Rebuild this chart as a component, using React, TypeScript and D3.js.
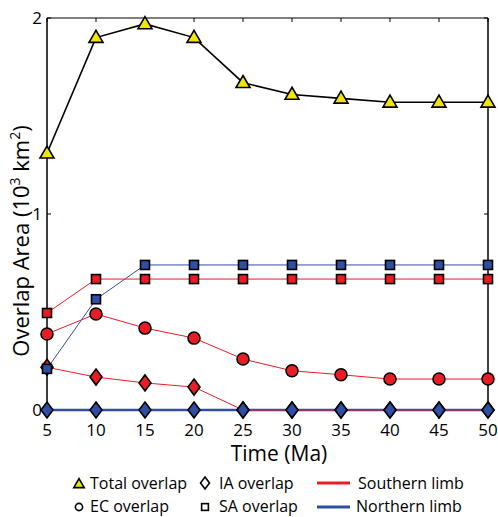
import React from "react";
import * as d3 from "d3";

const times = [5, 10, 15, 20, 25, 30, 35, 40, 45, 50];
const totalOverlap = [1.31, 1.9, 1.97, 1.9, 1.67, 1.61, 1.59, 1.57, 1.57, 1.57];
const southSA = [0.495, 0.668, 0.668, 0.668, 0.668, 0.668, 0.668, 0.668, 0.668, 0.668];
const northSA = [0.21, 0.565, 0.74, 0.74, 0.74, 0.74, 0.74, 0.74, 0.74, 0.74];
const southEC = [0.388, 0.49, 0.418, 0.367, 0.26, 0.2, 0.18, 0.158, 0.158, 0.158];
const southIA = [0.218, 0.168, 0.138, 0.117, 0, 0, 0, 0, 0, 0];
const northIA = [0, 0, 0, 0, 0, 0, 0, 0, 0, 0];
const yTicks = [0, 1, 2];

const RED = "#ec1c24";
const BLUE = "#2e4fa3";
const YELLOW = "#f2e600";
const FONT = "'Open Sans', 'DejaVu Sans', sans-serif";

type Shape = "tri" | "circle" | "square" | "diamond";

const Marker = ({ shape, x, y, fill, s = 1 }: { shape: Shape; x: number; y: number; fill: string; s?: number }) => {
  const common = { fill, stroke: "#000", strokeWidth: 1.6 };
  if (shape === "tri") {
    const h = 12 * s, w = 14 * s;
    return <path d={`M${x},${y - h * 0.6}L${x + w / 2},${y + h * 0.4}L${x - w / 2},${y + h * 0.4}Z`} {...common} />;
  }
  if (shape === "circle") return <circle cx={x} cy={y} r={6 * s} {...common} />;
  if (shape === "square") {
    const a = 9 * s;
    return <rect x={x - a / 2} y={y - a / 2} width={a} height={a} {...common} />;
  }
  const w = 6 * s, h = 8 * s;
  return <path d={`M${x},${y - h}L${x + w},${y}L${x},${y + h}L${x - w},${y}Z`} {...common} />;
};

export default function App() {
  const W = 498, H = 517;
  const x = d3.scaleLinear().domain([5, 50]).range([47, 488]);
  const y = d3.scaleLinear().domain([0, 2]).range([410, 18]);
  const line = (vals: number[]) =>
    d3.line<number>().x((_, i) => x(times[i])).y((v) => y(v))(vals) || "";

  // lines drawn in this order
  const lines: { vals: number[]; color: string; width: number }[] = [
    { vals: northIA, color: BLUE, width: 2.5 },
    { vals: southIA, color: RED, width: 1 },
    { vals: southEC, color: RED, width: 1 },
    { vals: northSA, color: BLUE, width: 1 },
    { vals: southSA, color: RED, width: 1 },
    { vals: totalOverlap, color: "#000", width: 1.6 },
  ];
  // markers drawn in this order
  const marks: { vals: number[]; shape: Shape; fill: string }[] = [
    { vals: southIA, shape: "diamond", fill: RED },
    { vals: northIA, shape: "diamond", fill: BLUE },
    { vals: southEC, shape: "circle", fill: RED },
    { vals: northSA, shape: "square", fill: BLUE },
    { vals: southSA, shape: "square", fill: RED },
    { vals: totalOverlap, shape: "tri", fill: YELLOW },
  ];

  return (
    <svg width={W} height={H} style={{ position: "absolute", left: 0, top: 0, background: "#fff" }} fontFamily={FONT}>
      {/* frame */}
      <line x1={47} x2={488} y1={18} y2={18} stroke="#000" strokeWidth={1.2} />
      <line x1={47} x2={47} y1={18} y2={410} stroke="#000" strokeWidth={1.5} />
      <line x1={488} x2={488} y1={18} y2={410} stroke="#000" strokeWidth={1.5} />
      {times.map((t) => (
        <line key={t} x1={x(t)} x2={x(t)} y1={18} y2={22} stroke="#000" />
      ))}
      {yTicks.map((v) => (
        <g key={v}>
          <line x1={47} x2={51} y1={y(v)} y2={y(v)} stroke="#000" />
          <line x1={484} x2={488} y1={y(v)} y2={y(v)} stroke="#000" />
          <text x={42} y={y(v) + 6} fontSize={17} textAnchor="end">{v}</text>
        </g>
      ))}
      {times.map((t) => (
        <text key={t} x={x(t)} y={436} fontSize={17} textAnchor="middle">{t}</text>
      ))}
      <text x={279} y={461} fontSize={21} textAnchor="middle">Time (Ma)</text>
      <text transform="translate(29,241) rotate(-90)" fontSize={22} textAnchor="middle">
        Overlap Area (10<tspan fontSize={14} dy={-9}>3</tspan>
        <tspan dy={9}> km</tspan>
        <tspan fontSize={14} dy={-9}>2</tspan>
        <tspan dy={9}>)</tspan>
      </text>
      {lines.map((s, i) => (
        <path key={i} d={line(s.vals)} fill="none" stroke={s.color} strokeWidth={s.width} />
      ))}
      {marks.map((s, i) => (
        <g key={i}>
          {s.vals.map((v, j) => (
            <Marker key={j} shape={s.shape} x={x(times[j])} y={y(v)} fill={s.fill} />
          ))}
        </g>
      ))}
      {/* legend */}
      <g fontSize={16}>
        <Marker shape="tri" x={79} y={484} fill={YELLOW} s={0.75} />
        <text x={90} y={489}>Total overlap</text>
        <Marker shape="diamond" x={205} y={483} fill="#fff" s={0.75} />
        <text x={219} y={489}>IA overlap</text>
        <line x1={317} x2={350} y1={483} y2={483} stroke={RED} strokeWidth={3} />
        <text x={358} y={489}>Southern limb</text>
        <Marker shape="circle" x={79} y={507} fill="#fff" s={0.6} />
        <text x={90} y={512}>EC overlap</text>
        <Marker shape="square" x={205} y={507} fill="#fff" s={0.75} />
        <text x={219} y={512}>SA overlap</text>
        <line x1={317} x2={350} y1={507} y2={507} stroke={BLUE} strokeWidth={3} />
        <text x={356} y={512}>Northern limb</text>
      </g>
    </svg>
  );
}
